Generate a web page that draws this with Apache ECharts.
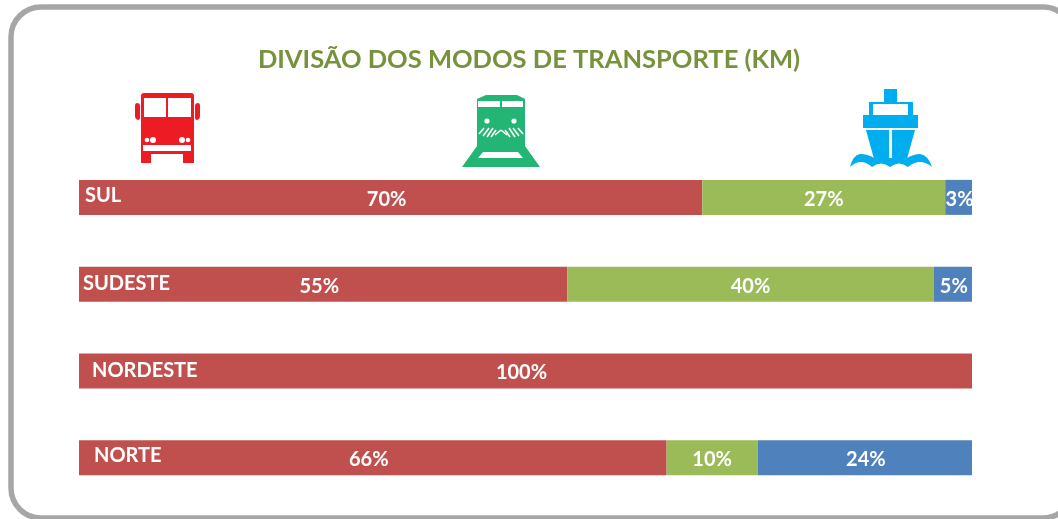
<!DOCTYPE html>
<html><head><meta charset="utf-8">
<style>html,body{margin:0;padding:0;background:#fff}#c{width:1058px;height:519px}</style>
<script src="https://cdn.jsdelivr.net/npm/echarts@6/dist/echarts.min.js"></script>
</head><body><div id="c"></div>
<script>
const categories = ['SUL','SUDESTE','NORDESTE','NORTE'];
const rodoviario = [69.8,54.7,100,65.8];
const ferroviario = [27.2,41.0,0,10.2];
const aquaviario = [3.0,4.3,0,24.0];
const rodoLabels = ['70%','55%','100%','66%'];
const ferroLabels = ['27%','40%','','10%'];
const aquaLabels = ['3%','5%','','24%'];
const titleText = 'DIVISÃO DOS MODOS DE TRANSPORTE (KM)';
const FONT = 'Lato';
const chart = echarts.init(document.getElementById('c'),null,{renderer:'canvas'});
function series(name,data,labels,color,offset){
  return {name,type:'bar',stack:'t',data,barWidth:35,itemStyle:{color},
    label:{show:true,position:'inside',offset,color:'#fff',fontFamily:FONT,fontWeight:'bold',fontSize:20,
      formatter:p=>labels[p.dataIndex]}};
}
const W='#fff', RED='#ed1c24', GRN='#22b573', BLU='#00aeef';
const busPath='M144 93H191Q194 93 194 96V163H183V154H151V163H141V96Q141 93 144 93Z';
const mirrorL='M137 103Q140 103 140 106V118Q140 120 138 120Q135 119 135 116V106Q135 103 137 103Z';
const mirrorR='M198 103Q195 103 195 106V118Q195 120 197 120Q200 119 200 116V106Q200 103 198 103Z';
const trainBody='M477 99L486 95H517L525 99V146L540 167H462L477 146Z';
const trainGap='M483 152H518L523 158H478Z';
const shipTop='M884 89H897V102H913V115H918V128H863V115H869V102H884Z';
const hullL='M866 130H889V159H874Z';
const hullR='M892 130H915L907 159H892Z';
const waves='M850 167Q853 155 860 154Q868 154 874 158H907Q914 154 920 154Q928 155 932 167Q920 157 908 167Q899 160 890 167Q881 160 872 167Q861 157 850 167Z';
function line(x1,y1,x2,y2){return {type:'line',shape:{x1,y1,x2,y2},style:{stroke:W,lineWidth:1.6}};}
const iconElements=[
  {type:'path',shape:{pathData:busPath},style:{fill:RED}},
  {type:'path',shape:{pathData:mirrorL},style:{fill:RED}},
  {type:'path',shape:{pathData:mirrorR},style:{fill:RED}},
  {type:'rect',shape:{x:144,y:98,width:22,height:19},style:{fill:W}},
  {type:'rect',shape:{x:168,y:98,width:23,height:19},style:{fill:W}},
  {type:'rect',shape:{x:143,y:145,width:48,height:6},style:{fill:W}},
  {type:'circle',shape:{cx:147,cy:140,r:2.3},style:{fill:W}},
  {type:'circle',shape:{cx:153,cy:140,r:3},style:{fill:W}},
  {type:'circle',shape:{cx:182,cy:140,r:3},style:{fill:W}},
  {type:'circle',shape:{cx:188,cy:140,r:2.3},style:{fill:W}},
  {type:'path',shape:{pathData:trainBody},style:{fill:GRN}},
  {type:'path',shape:{pathData:trainGap},style:{fill:W}},
  {type:'rect',shape:{x:478,y:101,width:22,height:6},style:{fill:W}},
  {type:'rect',shape:{x:502,y:101,width:21,height:6},style:{fill:W}},
  {type:'circle',shape:{cx:487,cy:121,r:2.6},style:{fill:W}},
  {type:'circle',shape:{cx:514,cy:121,r:2.6},style:{fill:W}},
  line(479,134,484,128),line(483,136,489,128),line(487,137,493,128),line(491,137,496,130),
  line(495,135,501,130),line(501,130,507,135),
  line(505,130,510,137),line(509,128,515,137),line(513,128,519,136),line(518,128,523,134),
  {type:'path',shape:{pathData:shipTop},style:{fill:BLU}},
  {type:'rect',shape:{x:873,y:104,width:35,height:11},style:{fill:W}},
  {type:'path',shape:{pathData:hullL},style:{fill:BLU}},
  {type:'path',shape:{pathData:hullR},style:{fill:BLU}},
  {type:'path',shape:{pathData:waves},style:{fill:BLU}},
  {type:'rect',shape:{x:889,y:130,width:3,height:28},style:{fill:W}}
];
chart.setOption({
  animation:false,
  title:{text:titleText,left:'center',top:47,padding:0,
    textStyle:{color:'#76923c',fontFamily:FONT,fontWeight:'bold',fontSize:25.5}},
  grid:{left:79,right:86,top:154,bottom:18},
  xAxis:{type:'value',min:0,max:100,show:false},
  yAxis:{type:'category',inverse:true,data:categories,
    axisLine:{show:false},axisTick:{show:false},splitLine:{show:false},
    axisLabel:{inside:true,margin:0,align:'left',color:'#fff',
      formatter:(v,i)=>`{s${i}|${v}}`,
      rich:{
        s0:{fontFamily:FONT,fontWeight:'bold',fontSize:20,color:'#fff',padding:[0,0,3,6]},
        s1:{fontFamily:FONT,fontWeight:'bold',fontSize:20,color:'#fff',padding:[0,0,1,4]},
        s2:{fontFamily:FONT,fontWeight:'bold',fontSize:20,color:'#fff',padding:[0,0,0,13]},
        s3:{fontFamily:FONT,fontWeight:'bold',fontSize:20,color:'#fff',padding:[0,0,5,15]}
      }},
    z:10},
  series:[
    series('Rodoviário',rodoviario,rodoLabels,'#c0504d',[-4,2]),
    series('Ferroviário',ferroviario,ferroLabels,'#9bbb59',[0,2]),
    series('Aquaviário',aquaviario,aquaLabels,'#4f81bd',[1,2]),
    {type:'custom',coordinateSystem:'none',silent:true,data:[0],z:5,
      renderItem:()=>({type:'group',children:iconElements})}
  ],
  graphic:[
    {type:'rect',shape:{x:11,y:7,width:1062,height:511,r:30},style:{fill:'#fff',stroke:'#a6a6a6',lineWidth:5.5},z:-10}
  ]
});
</script></body></html>
